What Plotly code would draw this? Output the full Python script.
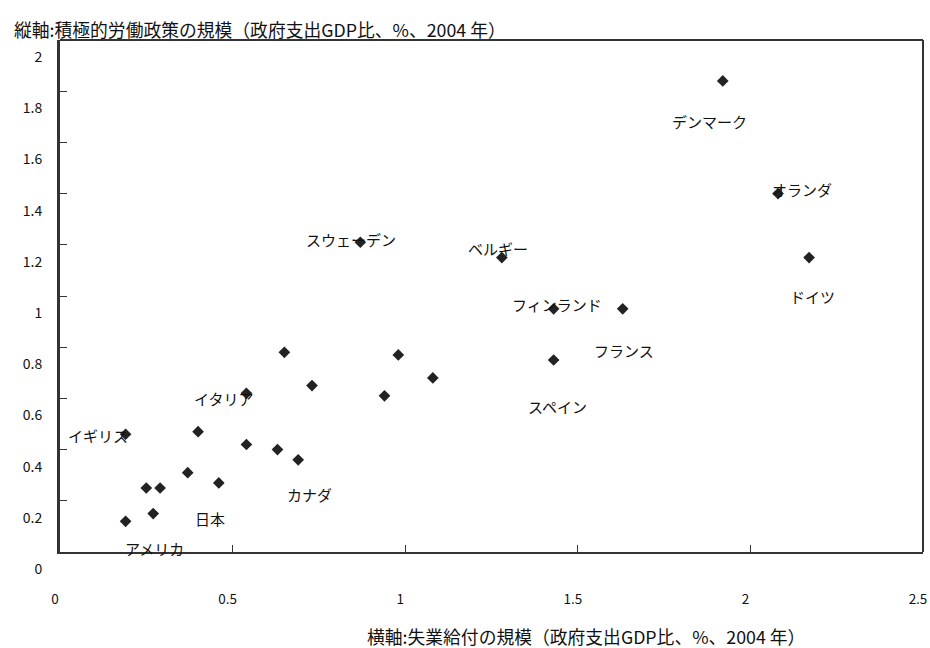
import plotly.graph_objects as go

# Unemployment benefits vs. active labour market policy spending (% of GDP, 2004)
countries = [
    "デンマーク", "オランダ", "ドイツ", "フランス", "スウェーデン", "ベルギー",
    "フィンランド", "スペイン", "", "", "", "", "", "イタリア", "イギリス",
    "", "", "", "カナダ", "", "", "", "日本", "", "アメリカ",
]
benefits = [
    1.92, 2.08, 2.17, 1.63, 0.87, 1.28,
    1.43, 1.43, 0.65, 0.98, 1.08, 0.73, 0.94, 0.54, 0.19,
    0.40, 0.54, 0.63, 0.69, 0.37, 0.25, 0.29, 0.46, 0.27, 0.19,
]
almp = [
    1.84, 1.40, 1.15, 0.95, 1.21, 1.15,
    0.95, 0.75, 0.78, 0.77, 0.68, 0.65, 0.61, 0.62, 0.46,
    0.47, 0.42, 0.40, 0.36, 0.31, 0.25, 0.25, 0.27, 0.15, 0.12,
]

# label placement relative to each marker (pixels: right, up)
label_offsets = {
    "デンマーク": (-13, -41), "オランダ": (24, 4), "ドイツ": (3, -39),
    "フランス": (1, -42), "スウェーデン": (-9, 3), "ベルギー": (-4, 9),
    "フィンランド": (3, 4), "スペイン": (4, -46), "イタリア": (-23, -5),
    "イギリス": (-28, -1), "カナダ": (11, -35), "日本": (-9, -36),
    "アメリカ": (29, -27),
}

x_title = "横軸:失業給付の規模（政府支出GDP比、%、2004 年）"
y_title = "縦軸:積極的労働政策の規模（政府支出GDP比、%、2004 年）"

FONT = "Noto Sans CJK JP"
INK = "#222222"

fig = go.Figure()
fig.add_trace(go.Scatter(
    x=benefits, y=almp, mode="markers",
    marker=dict(symbol="diamond", size=9, color=INK),
    hoverinfo="skip", showlegend=False,
))

for name, xv, yv in zip(countries, benefits, almp):
    if not name:
        continue
    dx, dy = label_offsets[name]
    fig.add_annotation(
        x=xv, y=yv, xref="x", yref="y", text=name, showarrow=False,
        xshift=dx, yshift=dy, font=dict(family=FONT, size=15, color="#111"),
    )

fig.add_annotation(
    xref="paper", yref="paper", x=-48 / 863, y=(552 - 29) / 512,
    xanchor="left", yanchor="middle", text=y_title, showarrow=False,
    font=dict(family=FONT, size=17.8, color="#111"),
)
fig.add_annotation(
    xref="paper", yref="paper", x=(586 - 60) / 863, y=-(636 - 552) / 512,
    xanchor="center", yanchor="middle", text=x_title, showarrow=False,
    font=dict(family=FONT, size=17.8, color="#111"),
)

# right and top edges of the frame
fig.add_shape(type="line", xref="paper", yref="paper", x0=1, x1=1, y0=0, y1=1,
              line=dict(color="#333", width=2))
fig.add_shape(type="line", xref="paper", yref="paper", x0=0, x1=1, y0=1, y1=1,
              line=dict(color="#333", width=2))

fig.update_xaxes(
    range=[0, 2.5], dtick=0.5, tick0=0, showgrid=False, zeroline=False,
    showline=True, linecolor="#333", linewidth=2, automargin=False,
    ticks="inside", ticklen=7, tickcolor="#333", tickwidth=1,
    ticklabelstandoff=34, ticklabelshift=-5, ticklabeloverflow="allow",
    tickfont=dict(family=FONT, size=13.5, color="#111"),
)
fig.update_yaxes(
    range=[0, 2], dtick=0.2, tick0=0, showgrid=False, zeroline=False,
    showline=True, linecolor="#333", linewidth=3, automargin=False,
    ticks="inside", ticklen=7, tickcolor="#333", tickwidth=1,
    ticklabelstandoff=12, ticklabelshift=17, ticklabeloverflow="allow",
    tickfont=dict(family=FONT, size=14, color="#111"),
)

fig.update_layout(
    width=930, height=648,
    margin=dict(l=60, r=7, t=40, b=96),
    paper_bgcolor="white", plot_bgcolor="white",
)

fig.write_html("out.html")
